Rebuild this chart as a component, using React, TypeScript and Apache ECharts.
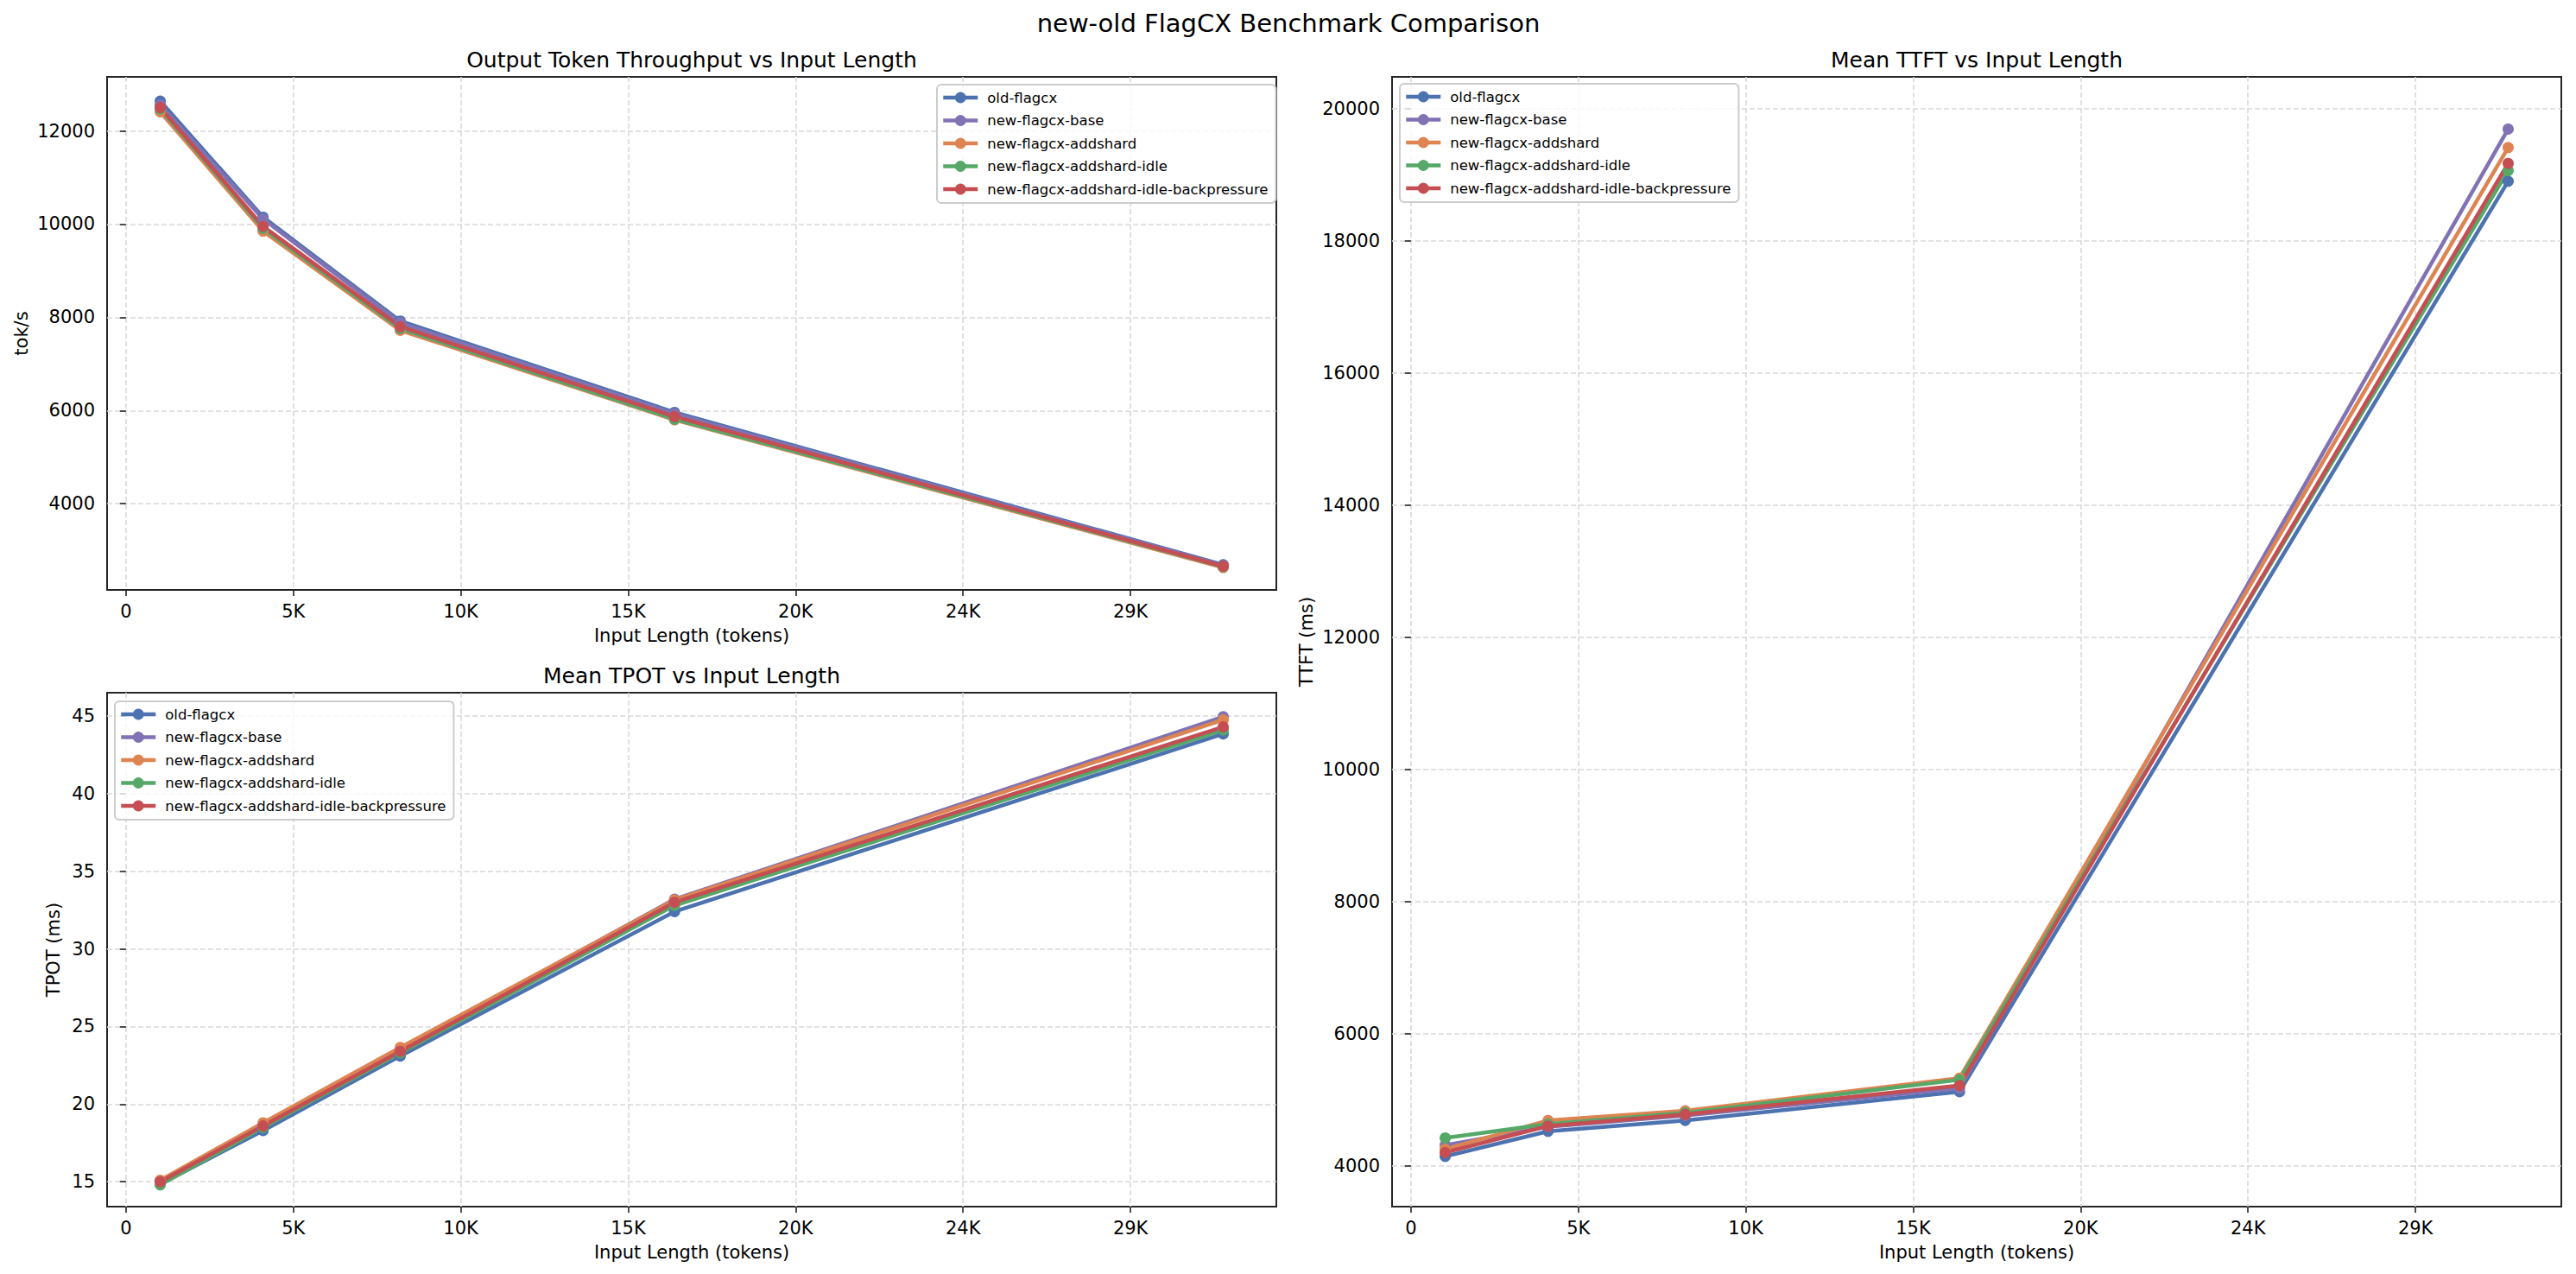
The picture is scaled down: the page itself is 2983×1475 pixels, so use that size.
import React, { useEffect, useRef } from "react";
import * as echarts from "echarts";

const FONT = '"DejaVu Sans", "Liberation Sans", sans-serif';

const inputLengths = [1024, 4096, 8192, 16384, 32768];
const seriesNames = [
  "old-flagcx",
  "new-flagcx-base",
  "new-flagcx-addshard",
  "new-flagcx-addshard-idle",
  "new-flagcx-addshard-idle-backpressure",
];
const seriesColors = ["#4C72B0", "#8172B3", "#DD8452", "#55A868", "#C44E52"];

// Output token throughput (tok/s)
const thrOld = [12640, 10150, 7920, 5960, 2690];
const thrBase = [12560, 10110, 7880, 5930, 2675];
const thrAddshard = [12410, 9850, 7720, 5800, 2630];
const thrIdle = [12470, 9910, 7760, 5815, 2650];
const thrBackpressure = [12500, 9950, 7800, 5870, 2660];

// Mean TPOT (ms)
const tpotOld = [14.85, 18.3, 23.1, 32.4, 43.85];
const tpotBase = [15.05, 18.55, 23.55, 33.2, 44.95];
const tpotAddshard = [15.1, 18.8, 23.65, 33.15, 44.75];
const tpotIdle = [14.8, 18.5, 23.3, 32.8, 44.1];
const tpotBackpressure = [15.0, 18.6, 23.4, 33.0, 44.3];

// Mean TTFT (ms)
const ttftOld = [4140, 4520, 4685, 5120, 18900];
const ttftBase = [4310, 4590, 4760, 5170, 19690];
const ttftAddshard = [4250, 4685, 4830, 5325, 19410];
const ttftIdle = [4420, 4630, 4800, 5300, 19060];
const ttftBackpressure = [4200, 4600, 4775, 5215, 19170];

// Tick values and labels
const xTickValues = [0, 5000, 10000, 15000, 20000, 25000, 30000];
const xTickLabels = ["0", "5K", "10K", "15K", "20K", "24K", "29K"];
const thrTicks = [4000, 6000, 8000, 10000, 12000];
const tpotTicks = [15, 20, 25, 30, 35, 40, 45];
const ttftTicks = [4000, 6000, 8000, 10000, 12000, 14000, 16000, 18000, 20000];

const X_MIN = -563;
const X_MAX = 34355;

const mainTitle = "new-old FlagCX Benchmark Comparison";
const panelTitles = [
  "Output Token Throughput vs Input Length",
  "Mean TPOT vs Input Length",
  "Mean TTFT vs Input Length",
];
const xName = "Input Length (tokens)";
const yNames = ["tok/s", "TPOT (ms)", "TTFT (ms)"];

export default function App() {
  const ref = useRef<HTMLDivElement>(null);

  useEffect(() => {
    if (!ref.current) return;
    const chart = echarts.init(ref.current, null, { renderer: "svg" });

    const grids = [
      { left: 124, top: 89, width: 1354, height: 594 },
      { left: 124, top: 802, width: 1354, height: 595 },
      { left: 1612, top: 89, width: 1354, height: 1308 },
    ];
    const yRanges = [
      [2150, 13160],
      [13.4, 46.5],
      [3380, 20480],
    ];
    const yTicks = [thrTicks, tpotTicks, ttftTicks];
    const yGaps = [89, 52, 89];
    const metricData = [
      [thrOld, thrBase, thrAddshard, thrIdle, thrBackpressure],
      [tpotOld, tpotBase, tpotAddshard, tpotIdle, tpotBackpressure],
      [ttftOld, ttftBase, ttftAddshard, ttftIdle, ttftBackpressure],
    ];

    const gridLine = { show: true, lineStyle: { type: [6, 3], color: "#d9d9d9", width: 1.6 } };
    const tickStyle = { color: "#222", width: 1.6 };

    const xAxes = grids.map((_, i) => ({
      type: "value",
      gridIndex: i,
      min: X_MIN,
      max: X_MAX,
      name: xName,
      nameLocation: "middle",
      nameGap: 42,
      nameTextStyle: { fontSize: 21, fontFamily: FONT, color: "#000" },
      axisLine: { show: false },
      axisTick: { show: true, length: 7, lineStyle: tickStyle, customValues: xTickValues },
      axisLabel: {
        margin: 14,
        fontSize: 21,
        fontFamily: FONT,
        color: "#000",
        customValues: xTickValues,
        formatter: (v: number) => {
          const idx = xTickValues.indexOf(v);
          return idx >= 0 ? xTickLabels[idx] : "";
        },
      },
      splitLine: gridLine,
    }));

    const yAxes = grids.map((_, i) => ({
      type: "value",
      gridIndex: i,
      min: yRanges[i][0],
      max: yRanges[i][1],
      name: yNames[i],
      nameLocation: "middle",
      nameGap: yGaps[i],
      nameTextStyle: { fontSize: 21, fontFamily: FONT, color: "#000" },
      axisLine: { show: false },
      axisTick: { show: true, length: 7, lineStyle: tickStyle, customValues: yTicks[i] },
      axisLabel: {
        margin: 14,
        fontSize: 21,
        fontFamily: FONT,
        color: "#000",
        customValues: yTicks[i],
        formatter: (v: number) => String(v),
      },
      splitLine: gridLine,
    }));

    const series: any[] = [];
    metricData.forEach((group, gi) => {
      group.forEach((vals, si) => {
        series.push({
          type: "line",
          name: seriesNames[si],
          xAxisIndex: gi,
          yAxisIndex: gi,
          data: inputLengths.map((x, k) => [x, vals[k]]),
          symbol: "circle",
          symbolSize: 13,
          lineStyle: { width: 4.5, color: seriesColors[si] },
          itemStyle: { color: seriesColors[si] },
          emphasis: { disabled: true },
        });
      });
    });

    const legendBase = {
      orient: "vertical",
      itemWidth: 40,
      itemHeight: 16,
      itemGap: 6.5,
      padding: [5, 9, 6, 5],
      backgroundColor: "rgba(255,255,255,0.8)",
      borderColor: "#cccccc",
      borderWidth: 2,
      borderRadius: 5,
      lineStyle: { width: 4.5 },
      textStyle: { fontSize: 16.5, fontFamily: FONT, color: "#000", lineHeight: 20, padding: [0, 0, 0, 6] },
      data: seriesNames,
    };

    const titleText = (text: string, x: number, y: number, size: number) => ({
      type: "text",
      x,
      y,
      style: {
        text,
        fontSize: size,
        fontFamily: FONT,
        fill: "#000",
        align: "center",
        verticalAlign: "middle",
        textAlign: "center",
        textVerticalAlign: "middle",
      },
    });

    chart.setOption({
      animation: false,
      backgroundColor: "#ffffff",
      grid: grids.map((g) => ({
        ...g,
        show: true,
        borderColor: "#262626",
        borderWidth: 2,
        backgroundColor: "transparent",
        containLabel: false,
      })),
      xAxis: xAxes,
      yAxis: yAxes,
      legend: [
        { ...legendBase, left: 1085, top: 98 },
        { ...legendBase, left: 133, top: 812 },
        { ...legendBase, left: 1621, top: 97 },
      ],
      graphic: [
        titleText(mainTitle, 1492, 27, 29),
        titleText(panelTitles[0], 801, 69, 25),
        titleText(panelTitles[1], 801, 782, 25),
        titleText(panelTitles[2], 2289, 69, 25),
      ],
      series,
    });

    return () => chart.dispose();
  }, []);

  return (
    <div
      ref={ref}
      style={{ position: "absolute", left: 0, top: 0, width: 2983, height: 1475, background: "#fff" }}
    />
  );
}
